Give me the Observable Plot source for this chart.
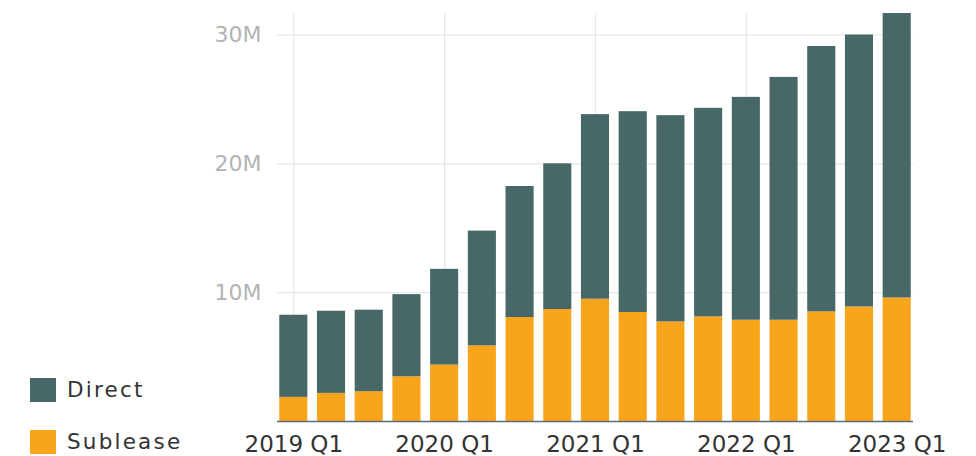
<!DOCTYPE html>
<html>
<head>
<meta charset="utf-8">
<script src="https://cdn.jsdelivr.net/npm/d3@7"></script>
<script src="https://cdn.jsdelivr.net/npm/@observablehq/plot@0.6"></script>
<style>
  html, body { margin: 0; padding: 0; background: #fff; overflow: hidden; }
  #wrap { position: relative; width: 976px; height: 456px; }
  .leg { position: absolute; left: 30px; display: flex; align-items: center; line-height: 24px;
         font-family: "DejaVu Sans", sans-serif; font-size: 21.5px; letter-spacing: 2.2px; color: #333; }
  .sw { width: 26px; height: 24px; margin-right: 11px; }
</style>
</head>
<body>
<div id="wrap"></div>
<script>
const quarters = ["2019 Q1","2019 Q2","2019 Q3","2019 Q4",
                  "2020 Q1","2020 Q2","2020 Q3","2020 Q4",
                  "2021 Q1","2021 Q2","2021 Q3","2021 Q4",
                  "2022 Q1","2022 Q2","2022 Q3","2022 Q4",
                  "2023 Q1"];
// values in millions
const sublease = [1.87, 2.18, 2.31, 3.47, 4.38, 5.87, 8.07, 8.69, 9.49, 8.46, 7.73, 8.12, 7.86, 7.86, 8.51, 8.89, 9.59];
const total    = [8.25, 8.56, 8.64, 9.85, 11.81, 14.78, 18.24, 20.0, 23.82, 24.05, 23.74, 24.31, 25.16, 26.71, 29.11, 30.0, 31.67];
const direct   = total.map((t, i) => +(t - sublease[i]).toFixed(2));
const seriesNames = ["Direct", "Sublease"];
const seriesColors = ["#476867", "#f9a51b"];
const xTicks = ["2019 Q1","2020 Q1","2021 Q1","2022 Q1","2023 Q1"];
const yTicks = [10, 20, 30];

const rows = [];
quarters.forEach((q, i) => {
  rows.push({quarter: q, series: "Sublease", value: sublease[i] * 1e6});
  rows.push({quarter: q, series: "Direct", value: direct[i] * 1e6});
});

const chart = Plot.plot({
  width: 976,
  height: 456,
  marginLeft: 277,
  marginRight: 63,
  marginTop: 13,
  marginBottom: 35,
  style: {background: "#fff", overflow: "visible"},
  x: {domain: quarters, paddingInner: 0.255, paddingOuter: 0.06, round: false, axis: null, label: null},
  y: {axis: null, label: null},
  color: {domain: seriesNames, range: seriesColors},
  marks: [
    Plot.gridX(xTicks, {stroke: "#e6e6e6", strokeOpacity: 1, strokeWidth: 1.2}),
    Plot.gridY(yTicks.map(d => d * 1e6), {stroke: "#e6e6e6", strokeOpacity: 1, strokeWidth: 1.2}),
    Plot.barY(rows, {x: "quarter", y: "value", fill: "series", order: ["Sublease", "Direct"]}),
    Plot.ruleY([0], {stroke: "#5d6b72", strokeWidth: 1.6}),
    Plot.axisX(xTicks, {tickSize: 0, tickPadding: 14, fontSize: 23, fill: "#333", label: null,
      fontFamily: "DejaVu Sans", style: "letter-spacing:0.7px"}),
    Plot.axisY(yTicks.map(d => d * 1e6), {tickSize: 0, tickPadding: 16, fontSize: 22, fill: "#b3b3b3", label: null,
      fontFamily: "DejaVu Sans", tickFormat: d => (d / 1e6) + "M", style: "letter-spacing:2.6px"})
  ]
});

const wrap = document.getElementById("wrap");
wrap.appendChild(chart);

seriesNames.forEach((name, i) => {
  const item = document.createElement("div");
  item.className = "leg";
  item.style.top = (i === 0 ? 378 : 430) + "px";
  const sw = document.createElement("div");
  sw.className = "sw";
  sw.style.background = seriesColors[i];
  const label = document.createElement("span");
  label.textContent = name;
  item.appendChild(sw);
  item.appendChild(label);
  wrap.appendChild(item);
});
</script>
</body>
</html>
